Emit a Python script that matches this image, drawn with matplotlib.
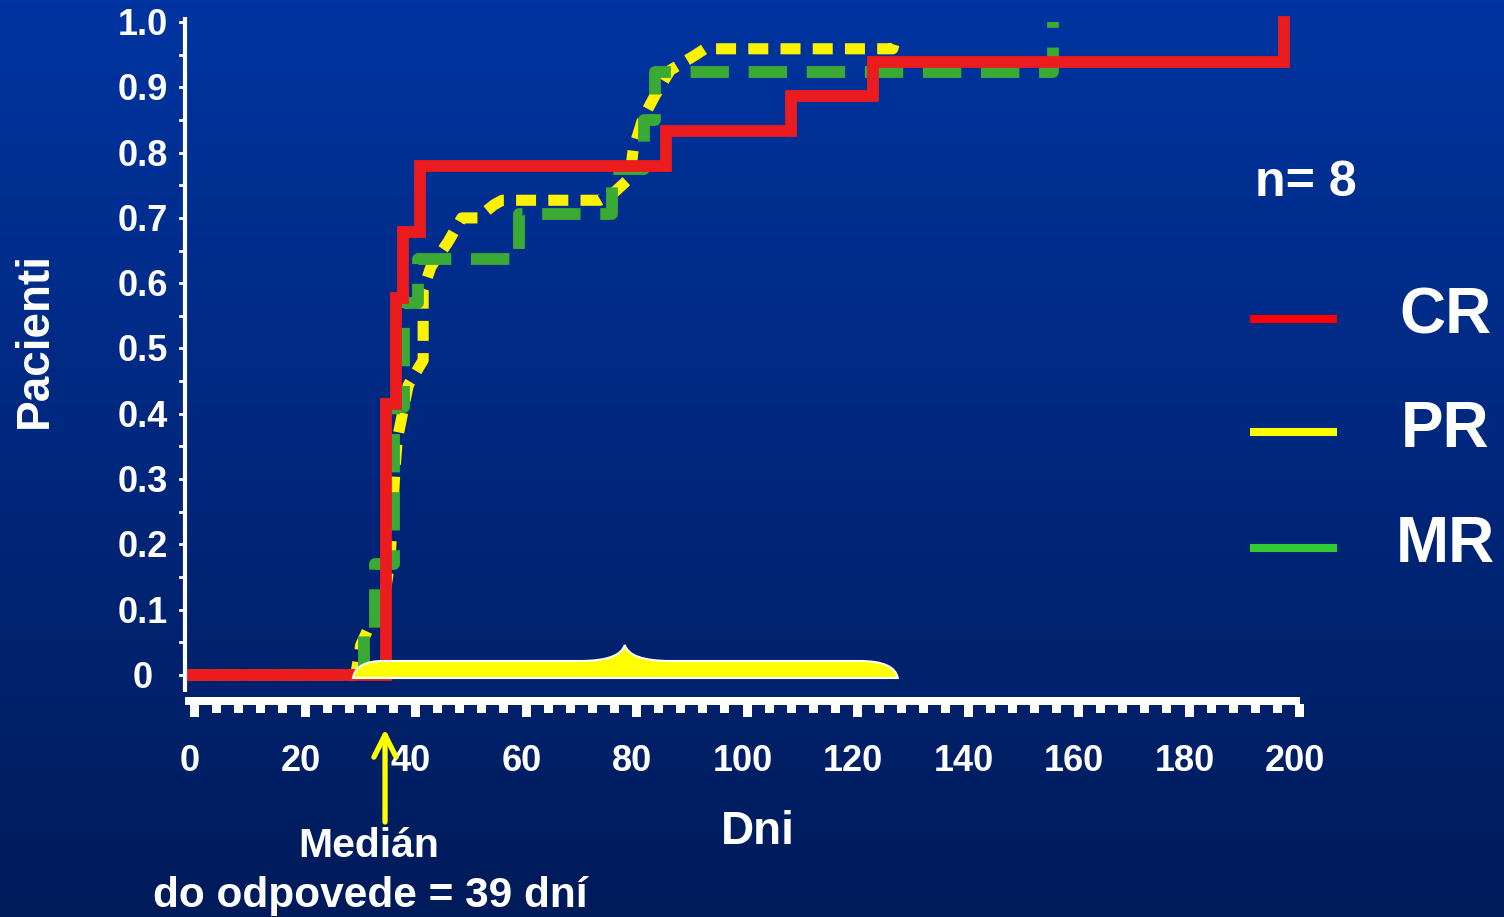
import numpy as np
import matplotlib
matplotlib.use('Agg')
import matplotlib.pyplot as plt
from matplotlib.patches import Rectangle, PathPatch
from matplotlib.path import Path
from matplotlib.lines import Line2D

plt.rcParams['font.family'] = ['Liberation Sans', 'DejaVu Sans']
plt.rcParams['font.weight'] = 'bold'

# ---------------- data ----------------
cr_days = [0, 35.4, 37.3, 38.6, 41.6, 86.1, 108.8, 123.7, 198.0]
cr_vals = [0, 0.415, 0.577, 0.678, 0.779, 0.833, 0.886, 0.939, 1.0]

mr_days = [0, 31.5, 33.5, 36.9, 38.7, 41.3, 59.5, 76.4, 82.2, 84.2, 156.2]
mr_vals = [0, 0.07, 0.17, 0.41, 0.57, 0.637, 0.706, 0.775, 0.85, 0.923, 1.0]

pr_days = [-0.4, 30.0, 30.9, 32.6, 34.8, 36.2, 37.1, 37.5, 39.5, 42.2, 42.2, 43.6,
           46.7, 49.2, 52.1, 55.0, 56.5, 74.2, 76.9, 79.6, 80.2, 82.0, 84.2, 86.9,
           91.4, 93.2, 127.2, 128.0]
pr_vals = [0, 0, 0.046, 0.077, 0.096, 0.176, 0.314, 0.36, 0.444, 0.482, 0.59, 0.625,
           0.663, 0.70, 0.70, 0.72, 0.727, 0.727, 0.74, 0.761, 0.804, 0.853, 0.888, 0.926,
           0.949, 0.959, 0.959, 0.983]

x_ticks = [0, 20, 40, 60, 80, 100, 120, 140, 160, 180, 200]
y_ticks = [0, 0.1, 0.2, 0.3, 0.4, 0.5, 0.6, 0.7, 0.8, 0.9, 1.0]
y_tick_labels = ['0', '0.1', '0.2', '0.3', '0.4', '0.5', '0.6', '0.7', '0.8', '0.9', '1.0']
series_names = ['CR', 'PR', 'MR']
n_label = 'n= 8'
x_title = 'Dni'
y_title = 'Pacienti'
median_lines = ['Medián', 'do odpovede = 39 dní']
median_arrow_day = 35.3
brace_days = (29.5, 78.7, 128.1)   # start, peak, end

# ---------------- style ----------------
col_cr, col_pr, col_mr = '#ec1c1e', '#fff200', '#3aaa35'
leg_cols = ['#ff0000', '#ffff00', '#33cc33']
W, H = 1504, 917

fig = plt.figure(figsize=(W / 100, H / 100), dpi=100)

# background gradient
bg = fig.add_axes([0, 0, 1, 1], zorder=-10)
top = np.array([0, 52, 160]) / 255
bot = np.array([0, 27, 90]) / 255
t = np.linspace(0, 1, 256)[:, None]
grad = (top[None, :] * (1 - t) + bot[None, :] * t)[:, None, :]
bg.imshow(grad, aspect='auto', extent=[0, 1, 0, 1])
bg.axis('off')

ax = fig.add_axes([190 / W, 1 - 675 / H, 1105 / W, 653 / H])
ax.set_xlim(0, 200)
ax.set_ylim(0, 1)
ax.axis('off')
ax.patch.set_alpha(0)

def dx(px):
    return (px - 190) / 5.525

def dy(py):
    return (675 - py) / 653.0

# curves
ax.plot(pr_days, pr_vals, color=col_pr, lw=8, ls=(0, (1.8, 1.1)),
        clip_on=False, zorder=3)
ax.plot(mr_days, mr_vals, color=col_mr, lw=8.5, ls=(0, (3.25, 1.67)),
        drawstyle='steps-post', clip_on=False, zorder=4)
ax.plot(cr_days, cr_vals, color=col_cr, lw=8.5, drawstyle='steps-post',
        solid_joinstyle='miter', clip_on=False, zorder=5)

# brace
b0, bp, b1 = brace_days
yb, yt, yp = dy(678), dy(661), dy(645)
verts = [(b0, yb), (b0 + 0.55, yt), (b0 + 5.4, yt), (bp - 8.1, yt),
         (bp - 0.9, yt), (bp, yp), (bp + 0.9, yt), (bp + 8.2, yt),
         (b1 - 6.9, yt), (b1 - 0.55, yt), (b1, yb), (b0, yb)]
codes = [Path.MOVETO, Path.CURVE3, Path.CURVE3, Path.LINETO,
         Path.CURVE3, Path.CURVE3, Path.CURVE3, Path.CURVE3,
         Path.LINETO, Path.CURVE3, Path.CURVE3, Path.CLOSEPOLY]
ax.add_patch(PathPatch(Path(verts, codes), facecolor='#ffff00', edgecolor='white',
                       lw=1.5, zorder=6, clip_on=False))

# y axis line + small ticks
ax.plot([dx(185), dx(185)], [dy(692), dy(17)], color='white', lw=3,
        clip_on=False, zorder=7, solid_capstyle='butt')
for v in np.arange(0, 1.0001, 0.05):
    ax.plot([dx(180), dx(185)], [v, v], color='white', lw=2, clip_on=False, zorder=7)

# x ruler
ax.add_patch(Rectangle((dx(185), dy(705)), dx(1300) - dx(185), dy(697) - dy(705),
                       facecolor='white', edgecolor='none', clip_on=False, zorder=7))
for d in range(0, 201, 4):
    b = dy(717) if d % 20 == 0 else dy(712.5)
    ax.add_patch(Rectangle((d, b), 9 / 5.525, dy(704) - b, facecolor='white',
                           edgecolor='none', clip_on=False, zorder=7))

# tick labels
for d in x_ticks:
    ax.text(d, dy(771), str(d), ha='center', va='baseline', fontsize=26,
            color='white', fontweight='bold')
for v, lab in zip(y_ticks, y_tick_labels):
    ax.text(dx(143), v - 13 / 653, lab, ha='center', va='baseline', fontsize=26,
            color='white', fontweight='bold')

def fx(px):
    return px / W

def fy(py):
    return 1 - py / H

fig.text(fx(35), fy(340), y_title, rotation=90, ha='center', va='center',
         fontsize=33, color='white', fontweight='bold')
fig.text(fx(758), fy(844), x_title, ha='center', va='baseline', fontsize=33,
         color='white', fontweight='bold')
fig.text(fx(1255), fy(196), n_label, ha='left', va='baseline', fontsize=36,
         color='white', fontweight='bold')

leg_line_y = [319, 432, 548]
leg_text_base = [334, 447, 562]
for name, c, ly, tb in zip(series_names, leg_cols, leg_line_y, leg_text_base):
    fig.add_artist(Line2D([fx(1250), fx(1337)], [fy(ly), fy(ly)], color=c, lw=5.8,
                          solid_capstyle='butt', transform=fig.transFigure))
    fig.text(fx(1445), fy(tb), name, ha='center', va='baseline', fontsize=46,
             color='white', fontweight='bold')

# median annotation
ax.annotate('', xy=(median_arrow_day, dy(729)), xytext=(median_arrow_day, dy(822)),
            arrowprops=dict(arrowstyle='->,head_length=16,head_width=8',
                            mutation_scale=1, color='#ffff00', lw=3.8,
                            shrinkA=0, shrinkB=0, capstyle='round'),
            annotation_clip=False)
fig.text(fx(369), fy(857), median_lines[0], ha='center', va='baseline', fontsize=29.5,
         color='white', fontweight='bold')
fig.text(fx(370), fy(907), median_lines[1], ha='center', va='baseline', fontsize=30.5,
         color='white', fontweight='bold')

fig.savefig('out.png', dpi=100)
